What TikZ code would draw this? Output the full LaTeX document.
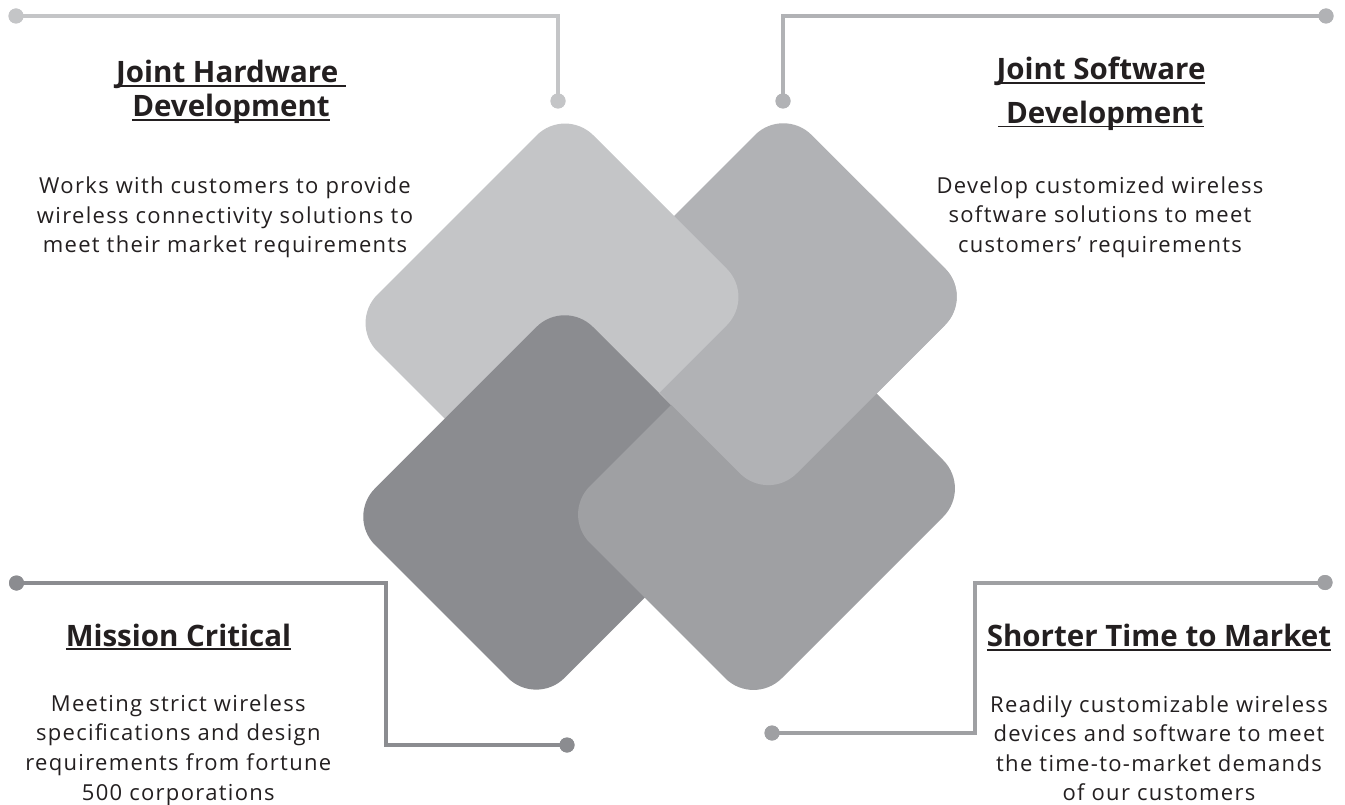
\documentclass[tikz,border=0pt]{standalone}
\usepackage{fontspec}
\setmainfont{Open Sans}
\newfontfamily\bodyfont[LetterSpace=6]{Open Sans}
\newfontfamily\titlefont{Open Sans}
\definecolor{shA}{HTML}{C4C5C7}
\definecolor{shB}{HTML}{B1B2B5}
\definecolor{shC}{HTML}{8B8C90}
\definecolor{shD}{HTML}{9FA0A3}
\definecolor{txt}{HTML}{231F20}
\newsavebox\ulbx
\newcommand\ulbox[1]{\sbox\ulbx{#1}\rlap{\rule[-4.2pt]{\wd\ulbx}{1.8pt}}\usebox\ulbx}
% rounded diamond: colour, top x, top y, p (down-left), q (down-right)
\newcommand\rdiamond[5]{%
  \fill[#1, rounded corners=40pt] ({#2+#5/2},{#3+#5/2}) -- ({#2+#5},{#3+#5}) -- ({#2+#5-#4},{#3+#5+#4}) -- ({#2-#4},{#3+#4}) -- (#2,#3) -- cycle;}
\tikzset{
  titletext/.style={font=\titlefont\bfseries\fontsize{29.5}{34}\selectfont, text=txt, inner sep=0pt, anchor=base},
  bodytext/.style={font=\bodyfont\fontsize{22}{29.5}\selectfont, text=txt, inner sep=0pt, anchor=base},
  conn/.style={line width=4pt},
  dot/.style={circle, inner sep=0pt, minimum size=15pt}
}
\begin{document}
\begin{tikzpicture}[x=1pt,y=-1pt]
\useasboundingbox (0,0) rectangle (1345,805);
\fill[white] (0,0) rectangle (1345,805);

% diamonds (woven order)
\rdiamond{shB}{783.3}{106.7}{205}{190}
\rdiamond{shA}{565}{107}{216}{190}
\rdiamond{shC}{564.7}{298.7}{218}{189.5}
\rdiamond{shD}{779.5}{296.5}{218}{192}
\begin{scope}
  \clip (1064,0) -- (1345,0) -- (1345,805) -- (259,805) -- cycle;
  \rdiamond{shB}{783.3}{106.7}{205}{190}
\end{scope}

% connectors
\node[dot, fill=shA] (tlA) at (16,16) {};
\node[dot, fill=shA] (tlB) at (558,101) {};
\coordinate (tlC) at (558,16);
\draw[conn, shA] (tlA.center) -- (tlC) -- (tlB.center);

\node[dot, fill=shB] (trA) at (783,101) {};
\node[dot, fill=shB] (trB) at (1326,16) {};
\coordinate (trC) at (783,16);
\draw[conn, shB] (trA.center) -- (trC) -- (trB.center);

\node[dot, fill=shC] (blA) at (16.5,583) {};
\node[dot, fill=shC] (blB) at (567,745) {};
\coordinate (blC1) at (386,583);
\coordinate (blC2) at (386,745);
\draw[conn, shC] (blA.center) -- (blC1) -- (blC2) -- (blB.center);

\node[dot, fill=shD] (brA) at (772,733) {};
\node[dot, fill=shD] (brB) at (1325,582.5) {};
\coordinate (brC1) at (974.5,733);
\coordinate (brC2) at (974.5,582.5);
\draw[conn, shD] (brA.center) -- (brC1) -- (brC2) -- (brB.center);

\node[dot, fill=shA] at (tlA) {};
\node[dot, fill=shA] at (tlB) {};
\node[dot, fill=shB] at (trA) {};
\node[dot, fill=shB] at (trB) {};
\node[dot, fill=shC] at (blA) {};
\node[dot, fill=shC] at (blB) {};
\node[dot, fill=shD] at (brA) {};
\node[dot, fill=shD] at (brB) {};

% top-left text
\node[titletext] (hw1) at (231,82.7) {\ulbox{Joint Hardware\ }};
\node[titletext] (hw2) at (231,116.7) {\ulbox{Development}};
\node[bodytext] (hwb1) at (225,193.5) {Works with customers to provide};
\node[bodytext] (hwb2) at (225,223.2) {wireless connectivity solutions to};
\node[bodytext] (hwb3) at (225,253) {meet their market requirements};

% top-right text
\node[titletext] (sw1) at (1101,80) {\ulbox{Joint Software}};
\node[titletext] (sw2) at (1101,123.3) {\ulbox{\ Development}};
\node[bodytext] (swb1) at (1100,193.3) {Develop customized wireless};
\node[bodytext] (swb2) at (1100,222.8) {software solutions to meet};
\node[bodytext] (swb3) at (1100,252.3) {customers’ requirements};

% bottom-left text
\node[titletext] (mc1) at (178.5,646) {\ulbox{Mission Critical}};
\node[bodytext] (mcb1) at (178.3,711) {Meeting strict wireless};
\node[bodytext] (mcb2) at (178.3,740.7) {specifications and design};
\node[bodytext] (mcb3) at (178.3,770.5) {requirements from fortune};
\node[bodytext] (mcb4) at (178.3,800.3) {500 corporations};

% bottom-right text
\node[titletext] (tm1) at (1159,646.5) {\ulbox{Shorter Time to Market}};
\node[bodytext] (tmb1) at (1159,712) {Readily customizable wireless};
\node[bodytext] (tmb2) at (1159,741.5) {devices and software to meet};
\node[bodytext] (tmb3) at (1159,771) {the time-to-market demands};
\node[bodytext] (tmb4) at (1159,800.5) {of our customers};
\end{tikzpicture}
\end{document}
